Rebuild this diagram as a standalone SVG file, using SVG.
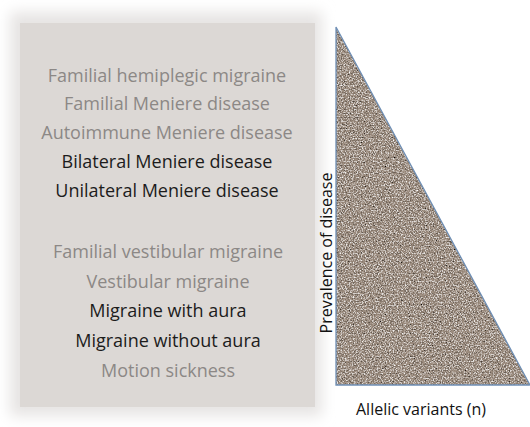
<svg xmlns="http://www.w3.org/2000/svg" width="530" height="427" viewBox="0 0 530 427">
<defs>
<filter id="halo" x="-20%" y="-20%" width="140%" height="140%">
<feGaussianBlur stdDeviation="7"/>
</filter>
<filter id="grain" x="0" y="0" width="100%" height="100%">
<feTurbulence type="fractalNoise" baseFrequency="0.75" numOctaves="2" seed="7" result="noise"/>
<feColorMatrix in="noise" type="matrix" values="1.3 0 0 0 -0.15  1.3 0 0 0 -0.15  1.3 0 0 0 -0.15  0 0 0 0 1" result="gray"/>
<feBlend in="SourceGraphic" in2="gray" mode="overlay" result="b"/>
<feComposite in="b" in2="SourceGraphic" operator="in"/>
</filter>
</defs>
<style>
text{font-family:"Open Sans","Liberation Sans",sans-serif;font-size:18px;text-anchor:middle}
.g{fill:#8c8886}
.k{fill:#1c1c1c}
.ax{fill:#111;font-size:16px}
</style>
<rect width="530" height="427" fill="#fff"/>
<g id="panel">
<rect x="10" y="12" width="312" height="404" fill="#e6e4e3" filter="url(#halo)"/>
<rect x="20" y="23" width="295" height="384" fill="#dcd8d5"/>
</g>
<g id="labels">
<text class="g" x="167" y="82">Familial hemiplegic migraine</text>
<text class="g" x="167" y="110">Familial Meniere disease</text>
<text class="g" x="167" y="139">Autoimmune Meniere disease</text>
<text class="k" x="167" y="168">Bilateral Meniere disease</text>
<text class="k" x="167" y="197">Unilateral Meniere disease</text>
<text class="g" x="168" y="258">Familial vestibular migraine</text>
<text class="g" x="168" y="288">Vestibular migraine</text>
<text class="k" x="168" y="317">Migraine with aura</text>
<text class="k" x="168" y="347">Migraine without aura</text>
<text class="g" x="168" y="377">Motion sickness</text>
</g>
<g id="triangle">
<polygon points="336,27 336,385 530,385" fill="#9e8e80" filter="url(#grain)"/>
<polygon points="336,27 336,385 530,385" fill="none" stroke="#6f8fb5" stroke-width="1.3"/>
</g>
<g id="axes">
<text class="ax" transform="translate(332,253) rotate(-90)">Prevalence of disease</text>
<text class="ax" x="421" y="415">Allelic variants (n)</text>
</g>
</svg>
